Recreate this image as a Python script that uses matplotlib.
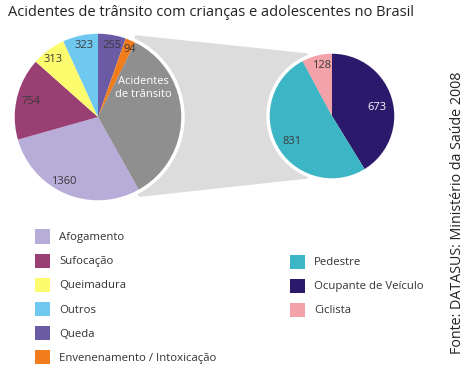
import numpy as np
import matplotlib.pyplot as plt
from matplotlib.patches import Patch, Circle, Polygon

plt.rcParams["font.family"] = ["Open Sans", "DejaVu Sans"]

# dados (DATASUS 2008)
left_labels = ["Queda", "Envenenamento / Intoxicação", "Acidentes de trânsito",
               "Afogamento", "Sufocação", "Queimadura", "Outros"]
left_values = [255, 94, 1632, 1360, 754, 313, 323]
left_colors = ["#6b5ba5", "#f07c1b", "#8f8f8f", "#b8acd8", "#993f73", "#fdfb6e", "#6ec8f0"]

right_labels = ["Ocupante de Veículo", "Pedestre", "Ciclista"]
right_values = [673, 831, 128]
right_colors = ["#2b1a6b", "#3cb6c4", "#f2a2a8"]

legend_left = ["Afogamento", "Sufocação", "Queimadura", "Outros", "Queda",
               "Envenenamento / Intoxicação"]
legend_right = ["Pedestre", "Ocupante de Veículo", "Ciclista"]

W, H = 469, 369
fig = plt.figure(figsize=(W / 100, H / 100), dpi=100)
ax = fig.add_axes([0, 0, 1, 1])

c1, r1 = (98, H - 117), 85
c2, r2 = (332, H - 116), 64

# conector cinza entre as pizzas
total = sum(left_values)
a_start = 90 - 360 * sum(left_values[:2]) / total
a_end = a_start - 360 * left_values[2] / total
p1 = (c1[0] + r1 * np.cos(np.radians(a_start)), c1[1] + r1 * np.sin(np.radians(a_start)) + 5)
p2 = (c1[0] + r1 * np.cos(np.radians(a_end)), c1[1] + r1 * np.sin(np.radians(a_end)) - 5)
q1 = (c2[0] - 25, c2[1] + r2 - 2)
q2 = (c2[0] - 25, c2[1] - r2 + 2)
ax.add_patch(Polygon([p1, q1, c2, q2, p2, c1], closed=True, color="#dcdcdc", zorder=0))

# pizza principal
ax.pie(left_values, colors=left_colors, startangle=90, counterclock=False,
       center=c1, radius=r1, wedgeprops=dict(linewidth=0), frame=True)
ax.add_patch(Circle(c1, r1, fill=False, edgecolor="white", lw=2.5, zorder=5))

# pizza secundária
ax.pie(right_values, colors=right_colors, startangle=90, counterclock=False,
       center=c2, radius=r2, wedgeprops=dict(linewidth=0), frame=True)
ax.add_patch(Circle(c2, r2, fill=False, edgecolor="white", lw=2.5, zorder=5))

ax.set_xlim(0, W)
ax.set_ylim(0, H)
ax.set_aspect("equal")
ax.axis("off")

# rótulos
fs = 8
txt = "#3a3a3a"
ax.text(64, H - 181, "1360", fontsize=fs, color=txt, ha="center", va="center", zorder=6)
ax.text(31, H - 102, "754", fontsize=fs, color=txt, ha="center", va="center", zorder=6)
ax.text(53, H - 60, "313", fontsize=fs, color=txt, ha="center", va="center", zorder=6)
ax.text(84, H - 46, "323", fontsize=fs, color=txt, ha="center", va="center", zorder=6)
ax.text(112, H - 46, "255", fontsize=fs, color=txt, ha="center", va="center", zorder=6)
ax.text(130, H - 50, "94", fontsize=fs, color=txt, ha="center", va="center", zorder=6)
ax.text(143, H - 88, "Acidentes\nde trânsito", fontsize=fs, color="white",
        ha="center", va="center", linespacing=1.35, zorder=6)
ax.text(322, H - 66, "128", fontsize=fs, color=txt, ha="center", va="center", zorder=6)
ax.text(377, H - 107, "673", fontsize=fs, color="white", ha="center", va="center", zorder=6)
ax.text(292, H - 141, "831", fontsize=fs, color=txt, ha="center", va="center", zorder=6)

# título e fonte
fig.text(8 / W, 1 - 12 / H, "Acidentes de trânsito com crianças e adolescentes no Brasil",
         fontsize=10.5, color="#222222", ha="left", va="center")
fig.text(457 / W, 1 - 213 / H, "Fonte: DATASUS: Ministério da Saúde 2008",
         fontsize=10.3, color="#222222", rotation=90, ha="center", va="center")

# legendas
leg_kw = dict(frameon=False, fontsize=8.2, handlelength=1.35, handleheight=1.55,
              labelspacing=0.86, handletextpad=0.75, labelcolor="#333333",
              borderpad=0, borderaxespad=0)
cmap = dict(zip(left_labels, left_colors))
h_left = [Patch(facecolor=cmap[l], edgecolor="none") for l in legend_left]
fig.legend(h_left, legend_left, loc="upper left",
           bbox_to_anchor=(35 / W, 1 - 229.5 / H), **leg_kw)
cmap2 = dict(zip(right_labels, right_colors))
h_right = [Patch(facecolor=cmap2[l], edgecolor="none") for l in legend_right]
fig.legend(h_right, legend_right, loc="upper left",
           bbox_to_anchor=(290 / W, 1 - 254.5 / H), **leg_kw)

fig.savefig("out.png", dpi=100, facecolor="white")
